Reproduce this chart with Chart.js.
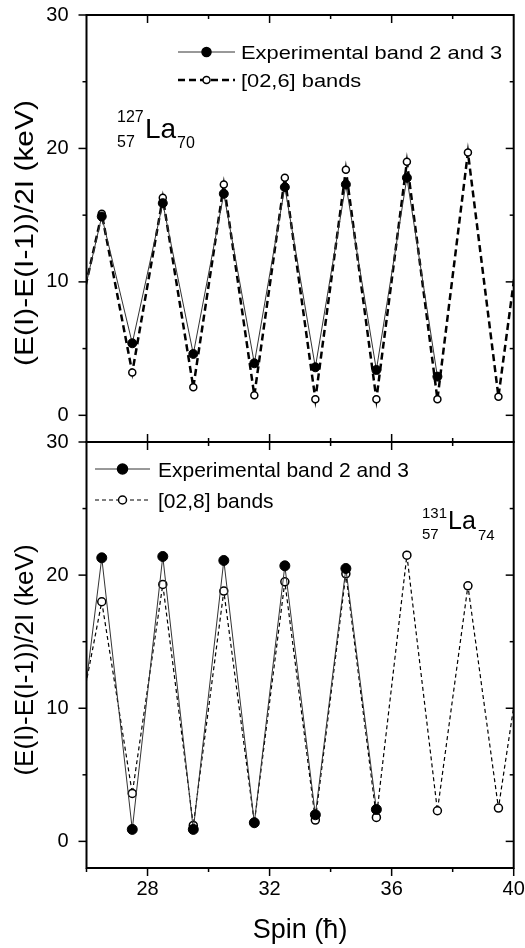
<!DOCTYPE html>
<html>
<head>
<meta charset="utf-8">
<script src="https://cdn.jsdelivr.net/npm/chart.js@4.4.1/dist/chart.umd.min.js"></script>
<style>
  html, body { margin: 0; padding: 0; background: #fff; }
  #wrap { position: relative; width: 525px; height: 948px; }
  canvas { position: absolute; left: 0; top: 0; }
</style>
</head>
<body>
<div id="wrap">
  <canvas id="topPanel" width="525" height="948"></canvas>
  <canvas id="bottomPanel" width="525" height="948"></canvas>
</div>
<script>
// spin values (half-integer); first and last fall just outside the axis range
const spins = [25.5, 26.5, 27.5, 28.5, 29.5, 30.5, 31.5, 32.5, 33.5, 34.5, 35.5, 36.5, 37.5, 38.5, 39.5, 40.5];

// 127La: experimental band 2 and 3 / [02,6] bands
const la127Exp  = [5.0, 14.9, 5.4, 15.9, 4.6, 16.6, 3.9, 17.1, 3.6, 17.3, 3.4, 17.8, 2.9, null, null, null];
const la127Calc = [4.9, 15.1, 3.2, 16.3, 2.1, 17.3, 1.5, 17.8, 1.2, 18.4, 1.2, 19.0, 1.2, 19.7, 1.4, 18.6];

// 131La: experimental band 2 and 3 / [02,8] bands
const la131Exp  = [2.8, 21.3, 0.9, 21.4, 0.9, 21.1, 1.4, 20.7, 2.0, 20.5, 2.4, null, null, null, null, null];
const la131Calc = [6.1, 18.0, 3.6, 19.3, 1.2, 18.8, 1.4, 19.5, 1.6, 20.1, 1.8, 21.5, 2.3, 19.2, 2.5, 17.7];

const xTickValues = [26, 28, 30, 32, 34, 36, 38, 40];
const xLabelValues = [28, 32, 36, 40];
const yTickValues = [0, 5, 10, 15, 20, 25, 30];
const yLabelValues = [0, 10, 20, 30];

const FONT = '"Liberation Sans", Arial, Helvetica, sans-serif';
Chart.defaults.font.family = FONT;
Chart.defaults.color = '#000';

function line(ctx, x1, y1, x2, y2) {
    ctx.beginPath();
    ctx.moveTo(x1, y1);
    ctx.lineTo(x2, y2);
    ctx.stroke();
}

function text(ctx, str, x, y, size, sx) {
    ctx.save();
    ctx.font = size + 'px ' + FONT;
    ctx.textBaseline = 'alphabetic';
    ctx.textAlign = 'left';
    ctx.translate(x, y);
    ctx.scale(sx || 1, 1);
    ctx.fillText(str, 0, 0);
    ctx.restore();
}

function marker(ctx, x, y, r, filled) {
    ctx.save();
    ctx.setLineDash([]);
    ctx.beginPath();
    ctx.arc(x, y, r, 0, Math.PI * 2);
    ctx.fillStyle = filled ? '#000' : '#fff';
    ctx.fill();
    ctx.lineWidth = 1.5;
    ctx.strokeStyle = '#000';
    ctx.stroke();
    ctx.restore();
}

// frame, mirrored ticks, legend, titles and nuclide label
function decor(cfg) {
    return {
        id: 'decor',
        afterDraw(chart) {
            const { ctx, chartArea: a, scales: { x, y } } = chart;
            ctx.save();
            ctx.strokeStyle = '#000';
            ctx.lineWidth = 1.5;
            xTickValues.forEach(v => {
                const px = x.getPixelForValue(v);
                const len = v % 4 === 0 ? 8 : 4;
                if (v > 26 && v < 40) line(ctx, px, a.top, px, a.top + len);
                if (cfg.bottomOut) line(ctx, px, a.bottom, px, a.bottom + len);
                else if (v > 26 && v < 40) line(ctx, px, a.bottom, px, a.bottom - len);
            });
            yTickValues.forEach(v => {
                const py = y.getPixelForValue(v);
                const len = v % 10 === 0 ? 8 : 4;
                line(ctx, a.left - len, py, a.left, py);
                if (v < 30) line(ctx, a.right, py, a.right - len, py);
            });
            ctx.lineWidth = 2;
            ctx.strokeRect(a.left, a.top, a.right - a.left, a.bottom - a.top);

            // legend
            const lg = cfg.legend;
            const sets = chart.data.datasets;
            lg.rows.forEach((row, i) => {
                const ds = sets[i];
                ctx.save();
                ctx.strokeStyle = ds.borderColor;
                ctx.lineWidth = ds.borderWidth;
                ctx.setLineDash(ds.borderDash || []);
                line(ctx, lg.x1, row, lg.x2, row);
                ctx.restore();
                marker(ctx, (lg.x1 + lg.x2) / 2, row, ds.pointRadius, i === 0);
                ctx.fillStyle = '#000';
                text(ctx, ds.label, lg.tx, row + lg.size * 0.36, lg.size, lg.sx);
            });

            // nuclide label
            const n = cfg.nuclide;
            ctx.fillStyle = '#000';
            text(ctx, 'La', n.x, n.base, n.size);
            text(ctx, n.mass, n.sx, n.base - n.supUp, n.small);
            text(ctx, '57', n.sx, n.base + n.subDown, n.small);
            text(ctx, n.neutrons, n.x + n.laWidth, n.base + n.subDown + 1, n.small);

            // y title
            const t = cfg.yTitle;
            ctx.save();
            ctx.font = '26px ' + FONT;
            ctx.textAlign = 'center';
            ctx.textBaseline = 'alphabetic';
            ctx.translate(33, t.cy);
            ctx.rotate(-Math.PI / 2);
            ctx.scale(t.stretch, 1);
            ctx.fillText('(E(I)-E(I-1))/2I (keV)', 0, 0);
            ctx.restore();

            if (cfg.xTitle) {
                ctx.font = '27px ' + FONT;
                ctx.textAlign = 'center';
                ctx.textBaseline = 'alphabetic';
                ctx.fillText('Spin (\u0127)', (a.left + a.right) / 2, 938);
            }
            ctx.restore();
        }
    };
}

// keep scale label overhang from pushing the plot area around
function noOverhang(s) {
    s.paddingTop = 0;
    s.paddingBottom = 0;
    s.paddingLeft = 0;
    s.paddingRight = 0;
}

function makePanel(id, cfg) {
    const toPoints = vals => spins.map((s, i) => ({ x: s, y: vals[i] }));
    return new Chart(document.getElementById(id), {
        type: 'line',
        data: {
            datasets: [
                {
                    label: 'Experimental band 2 and 3',
                    data: toPoints(cfg.exp),
                    borderColor: '#333',
                    borderWidth: 1,
                    pointRadius: cfg.expRadius,
                    pointBackgroundColor: '#000',
                    pointBorderColor: '#000',
                    pointBorderWidth: 1,
                    order: 0
                },
                {
                    label: cfg.calcLabel,
                    data: toPoints(cfg.calc),
                    borderColor: '#000',
                    borderWidth: cfg.dashWidth,
                    borderDash: cfg.dash,
                    pointRadius: cfg.calcRadius,
                    pointBackgroundColor: '#fff',
                    pointBorderColor: '#000',
                    pointBorderWidth: 1.5,
                    order: 1
                }
            ]
        },
        options: {
            responsive: false,
            animation: false,
            devicePixelRatio: 1,
            layout: { padding: cfg.padding },
            plugins: { legend: { display: false }, tooltip: { enabled: false } },
            scales: {
                x: {
                    type: 'linear',
                    min: 26,
                    max: 40,
                    grid: { display: false, drawTicks: false },
                    border: { display: false },
                    afterBuildTicks: s => { s.ticks = xTickValues.map(v => ({ value: v })); },
                    ticks: {
                        display: cfg.xTitle,
                        autoSkip: false,
                        maxRotation: 0,
                        padding: 9,
                        font: { size: 20 },
                        callback: v => xLabelValues.includes(v) ? String(v) : ''
                    },
                    afterFit: s => { s.height = cfg.xHeight; noOverhang(s); }
                },
                y: {
                    min: -2,
                    max: 30,
                    grid: { display: false, drawTicks: false },
                    border: { display: false },
                    afterBuildTicks: s => { s.ticks = yTickValues.map(v => ({ value: v })); },
                    ticks: {
                        autoSkip: false,
                        padding: 18,
                        font: { size: 20 },
                        callback: v => yLabelValues.includes(v) ? String(v) : ''
                    },
                    afterFit: s => { s.width = 86.5; noOverhang(s); }
                }
            }
        },
        plugins: [decor(cfg)]
    });
}

makePanel('topPanel', {
    exp: la127Exp,
    calc: la127Calc,
    calcLabel: '[02,6] bands',
    expRadius: 4.5,
    calcRadius: 3.5,
    dashWidth: 2.5,
    dash: [7, 4],
    padding: { top: 15, right: 11.3, bottom: 506, left: 0 },
    xHeight: 0,
    xTitle: false,
    bottomOut: false,
    legend: { rows: [52, 80], x1: 178, x2: 235, tx: 241, size: 19, sx: 1.15 },
    nuclide: { x: 145, base: 138, size: 28, mass: '127', neutrons: '70', sx: 117, supUp: 16, subDown: 9, small: 16, laWidth: 32 },
    yTitle: { cy: 233, stretch: 1.15 }
});

makePanel('bottomPanel', {
    exp: la131Exp,
    calc: la131Calc,
    calcLabel: '[02,8] bands',
    expRadius: 5,
    calcRadius: 4,
    dashWidth: 1.2,
    dash: [4, 3],
    padding: { top: 442, right: 11.3, bottom: 0, left: 0 },
    xHeight: 80,
    xTitle: true,
    bottomOut: true,
    legend: { rows: [469, 500], x1: 95, x2: 150, tx: 158, size: 21, sx: 1 },
    nuclide: { x: 448, base: 529, size: 25, mass: '131', neutrons: '74', sx: 422, supUp: 11, subDown: 10, small: 15, laWidth: 30 },
    yTitle: { cy: 660, stretch: 1 }
});
</script>
</body>
</html>
